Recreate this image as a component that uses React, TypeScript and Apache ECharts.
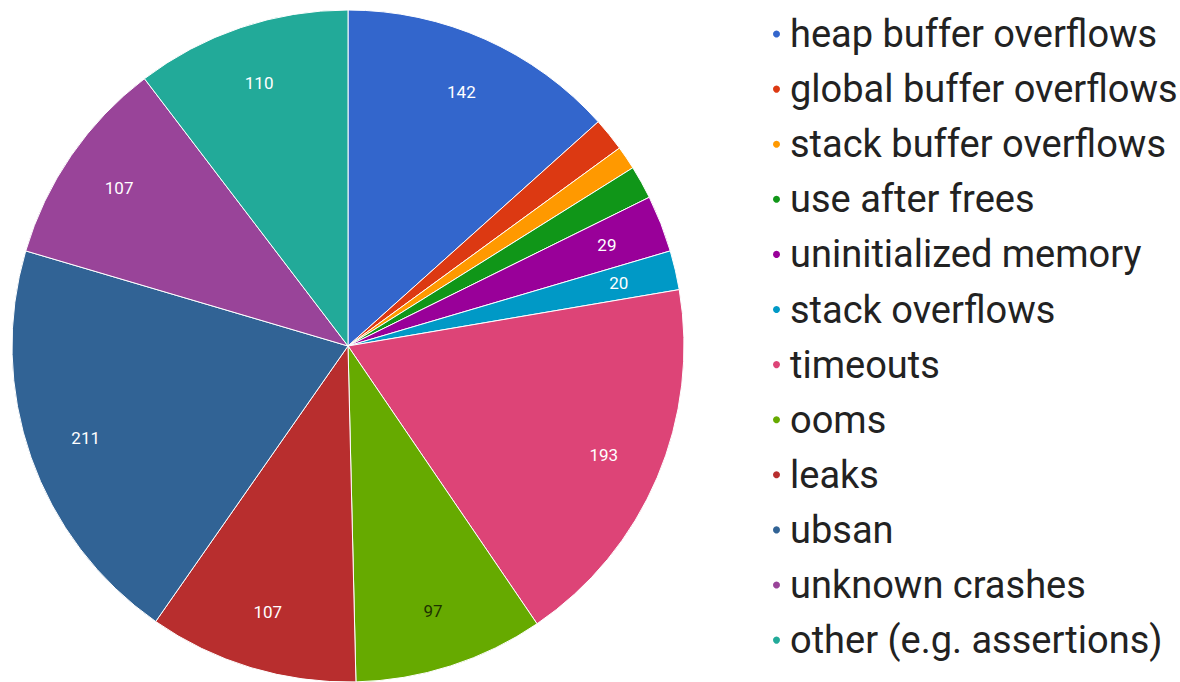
import React, { useEffect, useRef } from "react";
import * as echarts from "echarts";

const categories = [
  "heap buffer overflows",
  "global buffer overflows",
  "stack buffer overflows",
  "use after frees",
  "uninitialized memory",
  "stack overflows",
  "timeouts",
  "ooms",
  "leaks",
  "ubsan",
  "unknown crashes",
  "other (e.g. assertions)",
];
const values = [142, 17, 12, 17, 29, 20, 193, 97, 107, 211, 107, 110];
const colors = [
  "#3366cc",
  "#dc3912",
  "#ff9900",
  "#109618",
  "#990099",
  "#0099c6",
  "#dd4477",
  "#66aa00",
  "#b82e2e",
  "#316395",
  "#994499",
  "#22aa99",
];
const labelColors = [
  "#ffffff",
  "#ffffff",
  "#ffffff",
  "#ffffff",
  "#ffffff",
  "#ffffff",
  "#ffffff",
  "#1e3300",
  "#ffffff",
  "#ffffff",
  "#ffffff",
  "#ffffff",
];
const minLabelValue = 20;

export default function App() {
  const ref = useRef<HTMLDivElement>(null);
  useEffect(() => {
    if (!ref.current) return;
    const chart = echarts.init(ref.current, null, { renderer: "svg" });
    const mainData = categories.map((name, i) => ({
      name,
      value: values[i],
      itemStyle: { color: colors[i] },
    }));
    const labelData = categories.map((name, i) => ({
      name,
      value: values[i],
      label: {
        show: values[i] >= minLabelValue,
        color: labelColors[i],
      },
    }));
    chart.setOption({
      animation: false,
      backgroundColor: "#ffffff",
      legend: {
        orient: "vertical",
        left: 766,
        top: 10,
        icon: "circle",
        itemWidth: 9,
        itemHeight: 9,
        itemGap: 17.1,
        selectedMode: false,
        data: categories,
        textStyle: {
          fontFamily: "Roboto",
          fontSize: 38,
          lineHeight: 38,
          color: "#222222",
          padding: [0, 0, 0, 4],
        },
      },
      series: [
        {
          type: "pie",
          center: [348, 346],
          radius: [0, 336],
          startAngle: 90,
          clockwise: true,
          avoidLabelOverlap: false,
          label: { show: false },
          labelLine: { show: false },
          emphasis: { disabled: true },
          itemStyle: { borderColor: "#ffffff", borderWidth: 1 },
          data: mainData,
        },
        {
          type: "pie",
          center: [348, 346],
          radius: [214, 336],
          startAngle: 90,
          clockwise: true,
          silent: true,
          avoidLabelOverlap: false,
          itemStyle: { color: "rgba(0,0,0,0)", borderWidth: 0 },
          label: {
            position: "inside",
            fontFamily: "Roboto",
            fontSize: 17,
            formatter: "{c}",
          },
          labelLine: { show: false },
          emphasis: { disabled: true },
          data: labelData,
        },
      ],
    });
    return () => chart.dispose();
  }, []);
  return (
    <div
      ref={ref}
      style={{ position: "absolute", left: 0, top: 0, width: 1180, height: 682 }}
    />
  );
}
